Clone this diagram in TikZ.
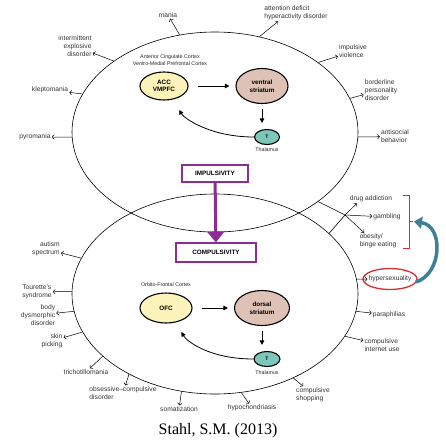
\documentclass[tikz,border=0pt]{standalone}
\usepackage{fontspec}
\setmainfont{Liberation Sans}
\newfontfamily\capfont{Liberation Serif}
\usepackage{tikz}
\usetikzlibrary{shapes.geometric}
\usetikzlibrary{arrows.meta}
\definecolor{accyellow}{RGB}{251,243,186}
\definecolor{strpink}{RGB}{221,194,181}
\definecolor{thalteal}{RGB}{124,199,184}
\definecolor{impurple}{RGB}{140,44,148}
\definecolor{hyred}{RGB}{215,45,45}
\definecolor{loopblue}{RGB}{62,128,150}
\tikzset{lbl/.style={font=\fontsize{6.7}{8}\selectfont, inner sep=1pt, text=black!80}}
\tikzset{outarr/.style={line width=0.5pt, -{Straight Barb[length=2pt,width=4.5pt]}}}
\tikzset{hub/.style={ellipse, draw, line width=1.1pt, inner sep=0pt, align=center, font=\bfseries\fontsize{6.3}{7.6}\selectfont}}
\tikzset{innerarr/.style={line width=0.8pt, -{Triangle[length=4.5pt,width=4.5pt]}}}
\tikzset{stagebox/.style={draw=impurple, fill=white, line width=1.1pt, inner sep=0pt, font=\bfseries\fontsize{6.3}{7.6}\selectfont}}
\tikzset{smalltxt/.style={font=\fontsize{5.3}{6.8}\selectfont, align=center, inner sep=0pt, text=black!85}}
\tikzset{region/.style={ellipse, draw, line width=0.6pt, inner sep=0pt, minimum width=286pt, minimum height=200pt}}

\begin{document}
\begin{tikzpicture}[x=1pt,y=-1pt]
  \useasboundingbox (0,0) rectangle (446,440);
  \node[region] (upper) at (215,132) {};
  \node[region] (lower) at (215,294) {};

  % impulsive circuit
  \node[smalltxt] (acclab) at (170,60.5) {Anterior Cingulate Cortex\\Ventro-Medial Prefrontal Cortex};
  \node[hub, fill=accyellow, minimum width=48pt, minimum height=28pt] (acc) at (164,86) {ACC\\VMPFC};
  \node[hub, fill=strpink, minimum width=52pt, minimum height=35pt] (vstr) at (262,86) {ventral\\striatum};
  \node[hub, fill=thalteal, minimum width=25pt, minimum height=15pt, font=\bfseries\fontsize{5}{6}\selectfont] (tha) at (267,137) {T};
  \node[smalltxt] (thalab) at (267,149.5) {Thalamus};
  \draw[innerarr, shorten <=9pt, shorten >=6pt] (acc) -- (vstr);
  \draw[innerarr, shorten <=5pt, shorten >=6pt] (vstr.south) -- (vstr.south |- tha.north);
  \draw[innerarr, shorten >=12pt] (tha.west) .. controls +(-45,0) and +(10,18) .. (acc.-55);

  % compulsive circuit
  \node[smalltxt] (ofclab) at (166,285) {Orbito-Frontal Cortex};
  \node[hub, fill=accyellow, minimum width=52pt, minimum height=30pt] (ofc) at (166,308) {OFC};
  \node[hub, fill=strpink, minimum width=55pt, minimum height=35pt] (dstr) at (262,308) {dorsal\\striatum};
  \node[hub, fill=thalteal, minimum width=26pt, minimum height=15pt, font=\bfseries\fontsize{5}{6}\selectfont] (thb) at (267,359) {T};
  \node[smalltxt] (thblab) at (267,372.5) {Thalamus};
  \draw[innerarr, shorten <=9pt, shorten >=6pt] (ofc) -- (dstr);
  \draw[innerarr, shorten <=5pt, shorten >=6pt] (dstr.south) -- (dstr.south |- thb.north);
  \draw[innerarr, shorten >=11pt] (thb.west) .. controls +(-45,0) and +(10,18) .. (ofc.-55);

  \node[stagebox, minimum width=66pt, minimum height=17pt] (impuls) at (215,173.5) {IMPULSIVITY};
  \node[stagebox, minimum width=80pt, minimum height=19pt] (compuls) at (216,252.5) {COMPULSIVITY};
  \draw[impurple, line width=3pt, -{Triangle[length=11pt,width=17pt]}] (impuls) -- (compuls);

  \node[lbl] (mania) at (168,15) {mania};
  \node[lbl, align=right] (ied) at (75,46) {intermittent\\explosive\\disorder};
  \node[lbl] (klepto) at (50,90) {kleptomania};
  \node[lbl] (pyro) at (35,137) {pyromania};
  \node[lbl, align=left] (adhd) at (296,13) {attention deficit\\hyperactivity disorder};
  \node[lbl, align=left] (viol) at (353,51.5) {impulsive\\violence};
  \node[lbl, align=left] (bpd) at (381,90) {borderline\\personality\\disorder};
  \node[lbl, align=left] (antis) at (395,136.5) {antisocial\\behavior};
  \foreach \ang/\lab in {110/mania, 145.4/ied, 164.3/klepto, 182.8/pyro, 65/adhd.205, 34.3/viol, 14.7/bpd, -2.4/antis}
    \draw[outarr] (upper.\ang) -- (\lab);

  \node[lbl, align=right] (autism) at (46,249) {autism\\spectrum};
  \node[lbl, align=left] (tour) at (37,292) {Tourette's\\syndrome};
  \node[lbl, align=right] (bdd) at (38,315) {body\\dysmorphic\\disorder};
  \node[lbl, align=right] (skin) at (52,341) {skin\\picking};
  \node[lbl] (trich) at (86,372) {trichotillomania};
  \node[lbl, align=left] (ocd) at (123,393) {obsessive--compulsive\\disorder};
  \node[lbl] (somat) at (179,409) {somatization};
  \node[lbl] (hypoch) at (252,408) {hypochondriasis};
  \node[lbl, align=left] (shop) at (313,394.5) {compulsive\\shopping};
  \node[lbl, align=left] (inet) at (382,345) {compulsive\\internet use};
  \node[lbl] (para) at (389,315) {paraphilias};
  \node[lbl] (hyper) at (390,279) {hypersexuality};
  \draw[hyred, line width=1.3pt] (hyper) ellipse [x radius=27pt, y radius=10.5pt];
  \foreach \ang/\lab in {165.5/autism, 179/tour, 187.2/bdd, 196.3/skin, 209.1/trich, 223.6/ocd, 251.9/somat, -75.8/hypoch, -47.1/shop, -18.2/inet, -7.3/para, 6.1/hyper}
    \draw[outarr] (lower.\ang) -- (\lab);

  % shared disorders
  \coordinate (fork) at (345,215);
  \node[lbl] (drug) at (371,199) {drug addiction};
  \node[lbl] (gamb) at (387,217) {gambling};
  \node[lbl, align=left] (obes) at (378,241) {obesity/\\binge eating};
  \draw[line width=0.6pt] (upper.-34.5) -- (fork) (lower.28.4) -- (fork);
  \foreach \lab in {drug.197, gamb, obes.149}
    \draw[outarr] (fork) -- (\lab);
  \draw[hyred, line width=0.7pt] (403,195) -- (409,195) -- (409,248) -- (403,248) (409,221.5) -- (413,221.5);

  \coordinate (hyperR) at (416,282);
  \coordinate (brk) at (414,221.5);
  \draw[loopblue, line width=3.5pt, -{Triangle[length=8pt,width=12pt]}] (hyperR) .. controls (442,274) and (444,226) .. (brk);

  \node[font=\capfont\fontsize{16}{19}\selectfont, inner sep=0pt] (cite) at (218,431) {Stahl, S.M. (2013)};
\end{tikzpicture}
\end{document}
